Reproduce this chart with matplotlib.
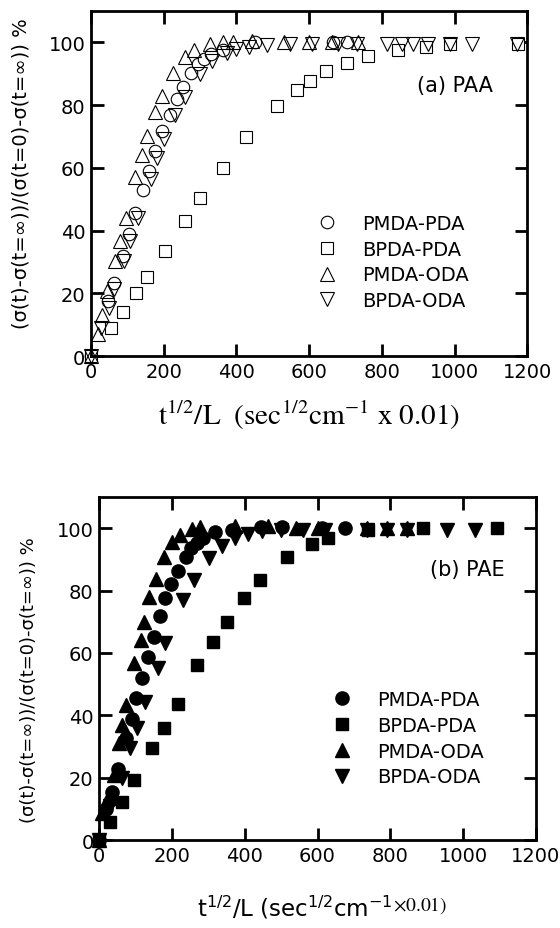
import matplotlib
matplotlib.use("Agg")
import matplotlib.pyplot as plt

# (a) PAA - open symbols
paa_pmda_pda_x = [0, 47, 63, 87, 105, 121, 144, 160, 177, 196, 216, 236, 254, 274, 295, 310, 330, 362, 451, 666, 704]
paa_pmda_pda_y = [0, 17.5, 23.3, 31.8, 38.9, 45.6, 53, 58.9, 65.4, 71.6, 77, 82, 85.9, 90.1, 93, 94.7, 96.2, 97.6, 100, 100, 100]

paa_bpda_pda_x = [0, 56, 87, 124, 153, 204, 258, 301, 362, 427, 512, 566, 602, 646, 704, 762, 845, 922, 988, 1175]
paa_bpda_pda_y = [0, 9, 14.1, 20, 25.1, 33.6, 43, 50.4, 60.1, 70, 79.8, 84.7, 87.6, 90.8, 93.6, 95.8, 97.6, 98.6, 99.6, 99.6]

paa_pmda_oda_x = [0, 18, 31, 45, 67, 81, 96, 122, 139, 155, 175, 195, 225, 258, 283, 326, 362, 391, 443, 530, 600, 663, 735]
paa_pmda_oda_y = [0, 6.9, 13, 20.7, 30.4, 36.8, 44, 57, 64, 70.3, 77.7, 83, 90.3, 95.2, 97.6, 99.4, 100, 100.2, 100.5, 100, 100, 100, 100]

paa_bpda_oda_x = [0, 28, 50, 64, 92, 108, 128, 164, 182, 200, 232, 258, 299, 333, 373, 400, 434, 485, 547, 608, 680, 732, 814, 855, 886, 927, 988, 1048, 1172]
paa_bpda_oda_y = [0, 9, 15.2, 21.5, 30.4, 36.8, 44, 56.5, 63, 69.2, 76.7, 82.7, 89.8, 94, 96.5, 97.9, 98.6, 99.3, 99.6, 99.6, 99.6, 99.6, 99.6, 99.6, 99.6, 99.6, 99.6, 99.6, 99.6]

# (b) PAE - filled symbols
pae_pmda_pda_x = [0, 18, 36, 53, 73, 89, 102, 118, 135, 150, 166, 182, 198, 216, 239, 253, 268, 286, 318, 365, 444, 502, 612, 675]
pae_pmda_pda_y = [0, 10, 15.5, 22.8, 32.6, 38.7, 45.5, 52.1, 58.8, 65.2, 71.7, 77.5, 82, 86.3, 90.9, 93.6, 95.2, 96.8, 98.7, 99.5, 100.5, 100.5, 100, 100]

pae_bpda_pda_x = [0, 29, 62, 95, 145, 177, 216, 268, 314, 350, 398, 441, 516, 586, 630, 740, 889, 1092]
pae_bpda_pda_y = [0, 5.9, 12.3, 19.3, 29.4, 35.8, 43.6, 56.1, 63.4, 70, 77.5, 83.4, 90.8, 95, 96.9, 99.5, 100, 100]

pae_pmda_oda_x = [0, 9, 25, 41, 55, 64, 73, 95, 114, 123, 138, 155, 177, 200, 223, 255, 277, 373, 464, 540, 602, 735, 790, 845]
pae_pmda_oda_y = [0, 8.6, 13.4, 20.9, 31, 36.9, 43.3, 56.7, 64.2, 70, 77.8, 83.7, 90.9, 95.7, 97.9, 99.8, 100.5, 100.8, 100.8, 100, 100, 100, 100, 100]

pae_bpda_oda_x = [0, 18, 30, 62, 86, 105, 127, 162, 182, 231, 260, 302, 337, 374, 410, 448, 500, 560, 620, 735, 790, 845, 955, 1032]
pae_bpda_oda_y = [0, 8.6, 11, 19.8, 29.4, 35.8, 44.4, 55, 63.1, 77, 83.3, 90.3, 94.3, 96.7, 98, 99, 99.5, 99.5, 99.5, 99.5, 99.5, 99.5, 99.5, 99.5]

labels = ["PMDA-PDA", "BPDA-PDA", "PMDA-ODA", "BPDA-ODA"]
ylabel = "(σ(t)-σ(t=∞))/(σ(t=0)-σ(t=∞)) %"

plt.rcParams['font.family'] = ['DejaVu Sans']

fig = plt.figure(figsize=(5.6, 9.29), dpi=100)
ax1 = fig.add_axes([0.1625, 0.6157, 0.779, 0.3713])
ax2 = fig.add_axes([0.177, 0.0947, 0.780, 0.3693])


def style_axis(ax, ylab_size, ylab_x, ylab_y):
    ax.set_xlim(0, 1200)
    ax.set_ylim(0, 110)
    ax.set_xticks(range(0, 1201, 200))
    ax.set_yticks(range(0, 101, 20))
    ax.tick_params(direction='in', length=9, width=2, top=True, right=True,
                   labelsize=14, pad=4)
    for s in ax.spines.values():
        s.set_linewidth(2)
    ax.set_ylabel(ylabel, fontsize=ylab_size)
    ax.yaxis.set_label_coords(ylab_x, ylab_y)


# top panel
ax1.plot(paa_pmda_pda_x, paa_pmda_pda_y, 'o', ms=9, mfc='white', mec='black', mew=0.8, clip_on=False, label=labels[0])
ax1.plot(paa_bpda_pda_x, paa_bpda_pda_y, 's', ms=8.5, mfc='white', mec='black', mew=0.8, clip_on=False, label=labels[1])
ax1.plot(paa_pmda_oda_x, paa_pmda_oda_y, '^', ms=9.5, mfc='none', mec='black', mew=0.8, clip_on=False, label=labels[2])
ax1.plot(paa_bpda_oda_x, paa_bpda_oda_y, 'v', ms=9.5, mfc='none', mec='black', mew=0.8, clip_on=False, label=labels[3])
style_axis(ax1, 14, -0.138, 0.533)
ax1.text(897, 86.3, "(a) PAA", fontsize=15, va='center', ha='left')
ax1.legend(loc='upper left', bbox_to_anchor=(0.502, 0.435), frameon=False, fontsize=14,
           handlelength=1.0, handletextpad=1.3, labelspacing=0.35, borderaxespad=0)
ax1.text(0.5, -0.168, r'$\mathrm{t^{1/2}/L\ \ (sec^{1/2}cm^{-1}\ x\ 0.01)}$',
         transform=ax1.transAxes, ha='center', va='center', fontsize=21,
         math_fontfamily='stix')

# bottom panel
ax2.plot(pae_pmda_pda_x, pae_pmda_pda_y, 'o', ms=9.5, color='black', clip_on=False, label=labels[0])
ax2.plot(pae_bpda_pda_x, pae_bpda_pda_y, 's', ms=8, color='black', clip_on=False, label=labels[1])
ax2.plot(pae_pmda_oda_x, pae_pmda_oda_y, '^', ms=10, color='black', clip_on=False, label=labels[2])
ax2.plot(pae_bpda_oda_x, pae_bpda_oda_y, 'v', ms=10, color='black', clip_on=False, label=labels[3])
style_axis(ax2, 13, -0.14, 0.47)
ax2.text(908, 86.9, "(b) PAE", fontsize=15, va='center', ha='left')
ax2.legend(loc='upper left', bbox_to_anchor=(0.516, 0.46), frameon=False, fontsize=14,
           handlelength=1.0, handletextpad=1.3, labelspacing=0.35, borderaxespad=0)
t1 = ax2.text(0.225, -0.195, r'$\mathregular{t^{1/2}/L\ (sec^{1/2}cm^{-1}}$',
              transform=ax2.transAxes, ha='left', va='center', fontsize=16.5,
              math_fontfamily='dejavusans')
ax2.annotate(r'$\mathrm{\times 0.01)}$', xy=(1, 0.22), xycoords=t1, ha='left', va='bottom',
             fontsize=14, math_fontfamily='stix')

fig.savefig("out.png", dpi=100)
